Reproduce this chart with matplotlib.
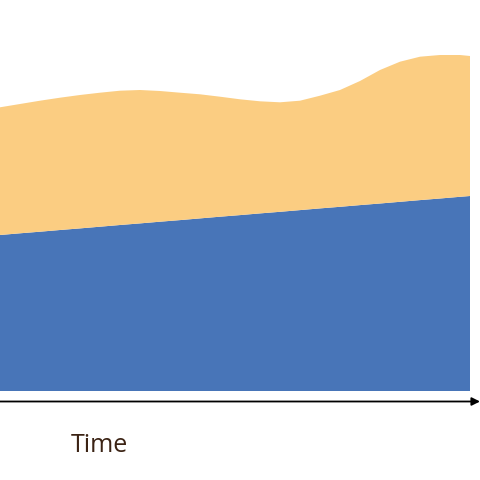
import matplotlib.pyplot as plt
from matplotlib.patches import FancyArrowPatch

# time positions and series heights
time = [0, 20, 40, 60, 80, 100, 120, 140, 160, 180, 200, 220, 240,
        260, 280, 300, 320, 340, 360, 380, 400, 420, 440, 460, 470]
series_a = [156.0, 157.7, 159.3, 161.0, 162.6, 164.3, 166.0, 167.6, 169.3,
            170.9, 172.6, 174.3, 175.9, 177.6, 179.2, 180.9, 182.6, 184.2,
            185.9, 187.5, 189.2, 190.9, 192.5, 194.2, 195.0]
series_b = [127.7, 129.3, 131.0, 132.3, 133.4, 134.0, 134.3, 133.4, 130.7,
            127.4, 124.1, 120.0, 115.8, 112.1, 109.5, 109.4, 112.7, 116.8,
            124.1, 133.5, 140.1, 143.4, 143.5, 141.8, 140.0]

colors = ['#4875b8', '#fbcd82']

fig = plt.figure(figsize=(4.8, 4.8), dpi=100)
ax = fig.add_axes([0, 89 / 480, 470 / 480, 391 / 480])
ax.stackplot(time, series_a, series_b, colors=colors, linewidth=0)
ax.set_xlim(0, 470)
ax.set_ylim(0, 391)
ax.axis('off')

# time axis arrow
fig.patches.append(FancyArrowPatch(
    (0, 78.5 / 480), (1, 78.5 / 480), transform=fig.transFigure,
    arrowstyle='-|>', mutation_scale=12, shrinkA=0, shrinkB=0,
    color='black', linewidth=1.3))

fig.text(99 / 480, 35 / 480, 'Time', ha='center', va='center',
         fontsize=18, color='#3b2314', family=['Open Sans', 'DejaVu Sans'])

fig.savefig('out.png', dpi=100)
